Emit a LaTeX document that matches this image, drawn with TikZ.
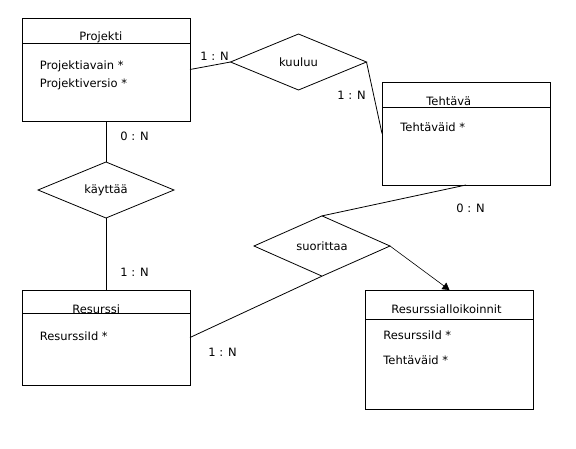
\documentclass[tikz,border=0pt]{standalone}
\usepackage{fontspec}
\setmainfont{DejaVu Sans}
\usetikzlibrary{shapes.geometric, arrows.meta}
\begin{document}
\begin{tikzpicture}[x=1pt, y=-1pt, font=\fontsize{11.5}{13}\selectfont, line width=0.8pt,
    entity/.style={draw, rectangle, minimum width=168pt, inner sep=0pt, outer sep=0pt},
    relation/.style={draw, diamond, minimum width=136pt, minimum height=56pt, inner sep=0pt, outer sep=0pt},
    txt/.style={inner sep=0pt, anchor=base west},
    card/.style={inner sep=0pt, anchor=base west}]
        \useasboundingbox (0, 0) rectangle (576, 448);
        % Projekti
        \node[entity, minimum height=103pt] (projekti) at (106, 69.5) {};
        \draw (22, 43) -- (190, 43);
        \node[txt] (projektiT) at (79, 40.5) {Projekti};
        \node[txt] (projektiA) at (39.5, 69) {Projektiavain *};
        \node[txt] (projektiB) at (39.5, 87.5) {Projektiversio *};

        % Tehtava
        \node[entity, minimum height=103pt] (tehtava) at (466, 133.5) {};
        \draw (382, 107) -- (550, 107);
        \node[txt] (tehtavaT) at (426, 105) {Tehtävä};
        \node[txt] (tehtavaA) at (400, 131.5) {Tehtäväid *};

        % Resurssi
        \node[entity, minimum height=95pt] (resurssi) at (106, 337.5) {};
        \draw (22, 313) -- (190, 313);
        \node[txt] (resurssiT) at (72, 313) {Resurssi};
        \node[txt] (resurssiA) at (39.5, 340) {ResurssiId *};

        % Resurssialloikoinnit
        \node[entity, minimum height=119pt] (alloc) at (449.5, 349.5) {};
        \draw (366, 319) -- (533, 319);
        \node[txt] (allocT) at (391, 313) {Resurssialloikoinnit};
        \node[txt] (allocA) at (383, 339) {ResurssiId *};
        \node[txt] (allocB) at (383, 364) {Tehtäväid *};

        % Suhteet
        \node[relation] (kuuluu) at (298.5, 62) {kuuluu};
        \node[relation] (kayttaa) at (106, 190) {käyttää};
        \node[relation] (suorittaa) at (322, 246) {suorittaa};

        \draw (projekti.east) -- (kuuluu.west);
        \draw (kuuluu.east) -- (tehtava.west);
        \draw (projekti.south) -- (kayttaa.north);
        \draw (kayttaa.south) -- (resurssi.north);
        \draw (tehtava.south) -- (suorittaa.north);
        \draw (resurssi.east) -- (suorittaa.south);
        \draw[-{Triangle[length=7pt, width=8pt]}, line width=0.6pt] (suorittaa.east) -- (alloc.north);

        % Kardinaliteetit
        \node[card] (c1) at (200, 60) {1 : N};
        \node[card] (c2) at (337, 99) {1 : N};
        \node[card] (c3) at (120, 140) {0 : N};
        \node[card] (c4) at (120, 276) {1 : N};
        \node[card] (c5) at (208, 356) {1 : N};
        \node[card] (c6) at (456, 212) {0 : N};
    \end{tikzpicture}
\end{document}
